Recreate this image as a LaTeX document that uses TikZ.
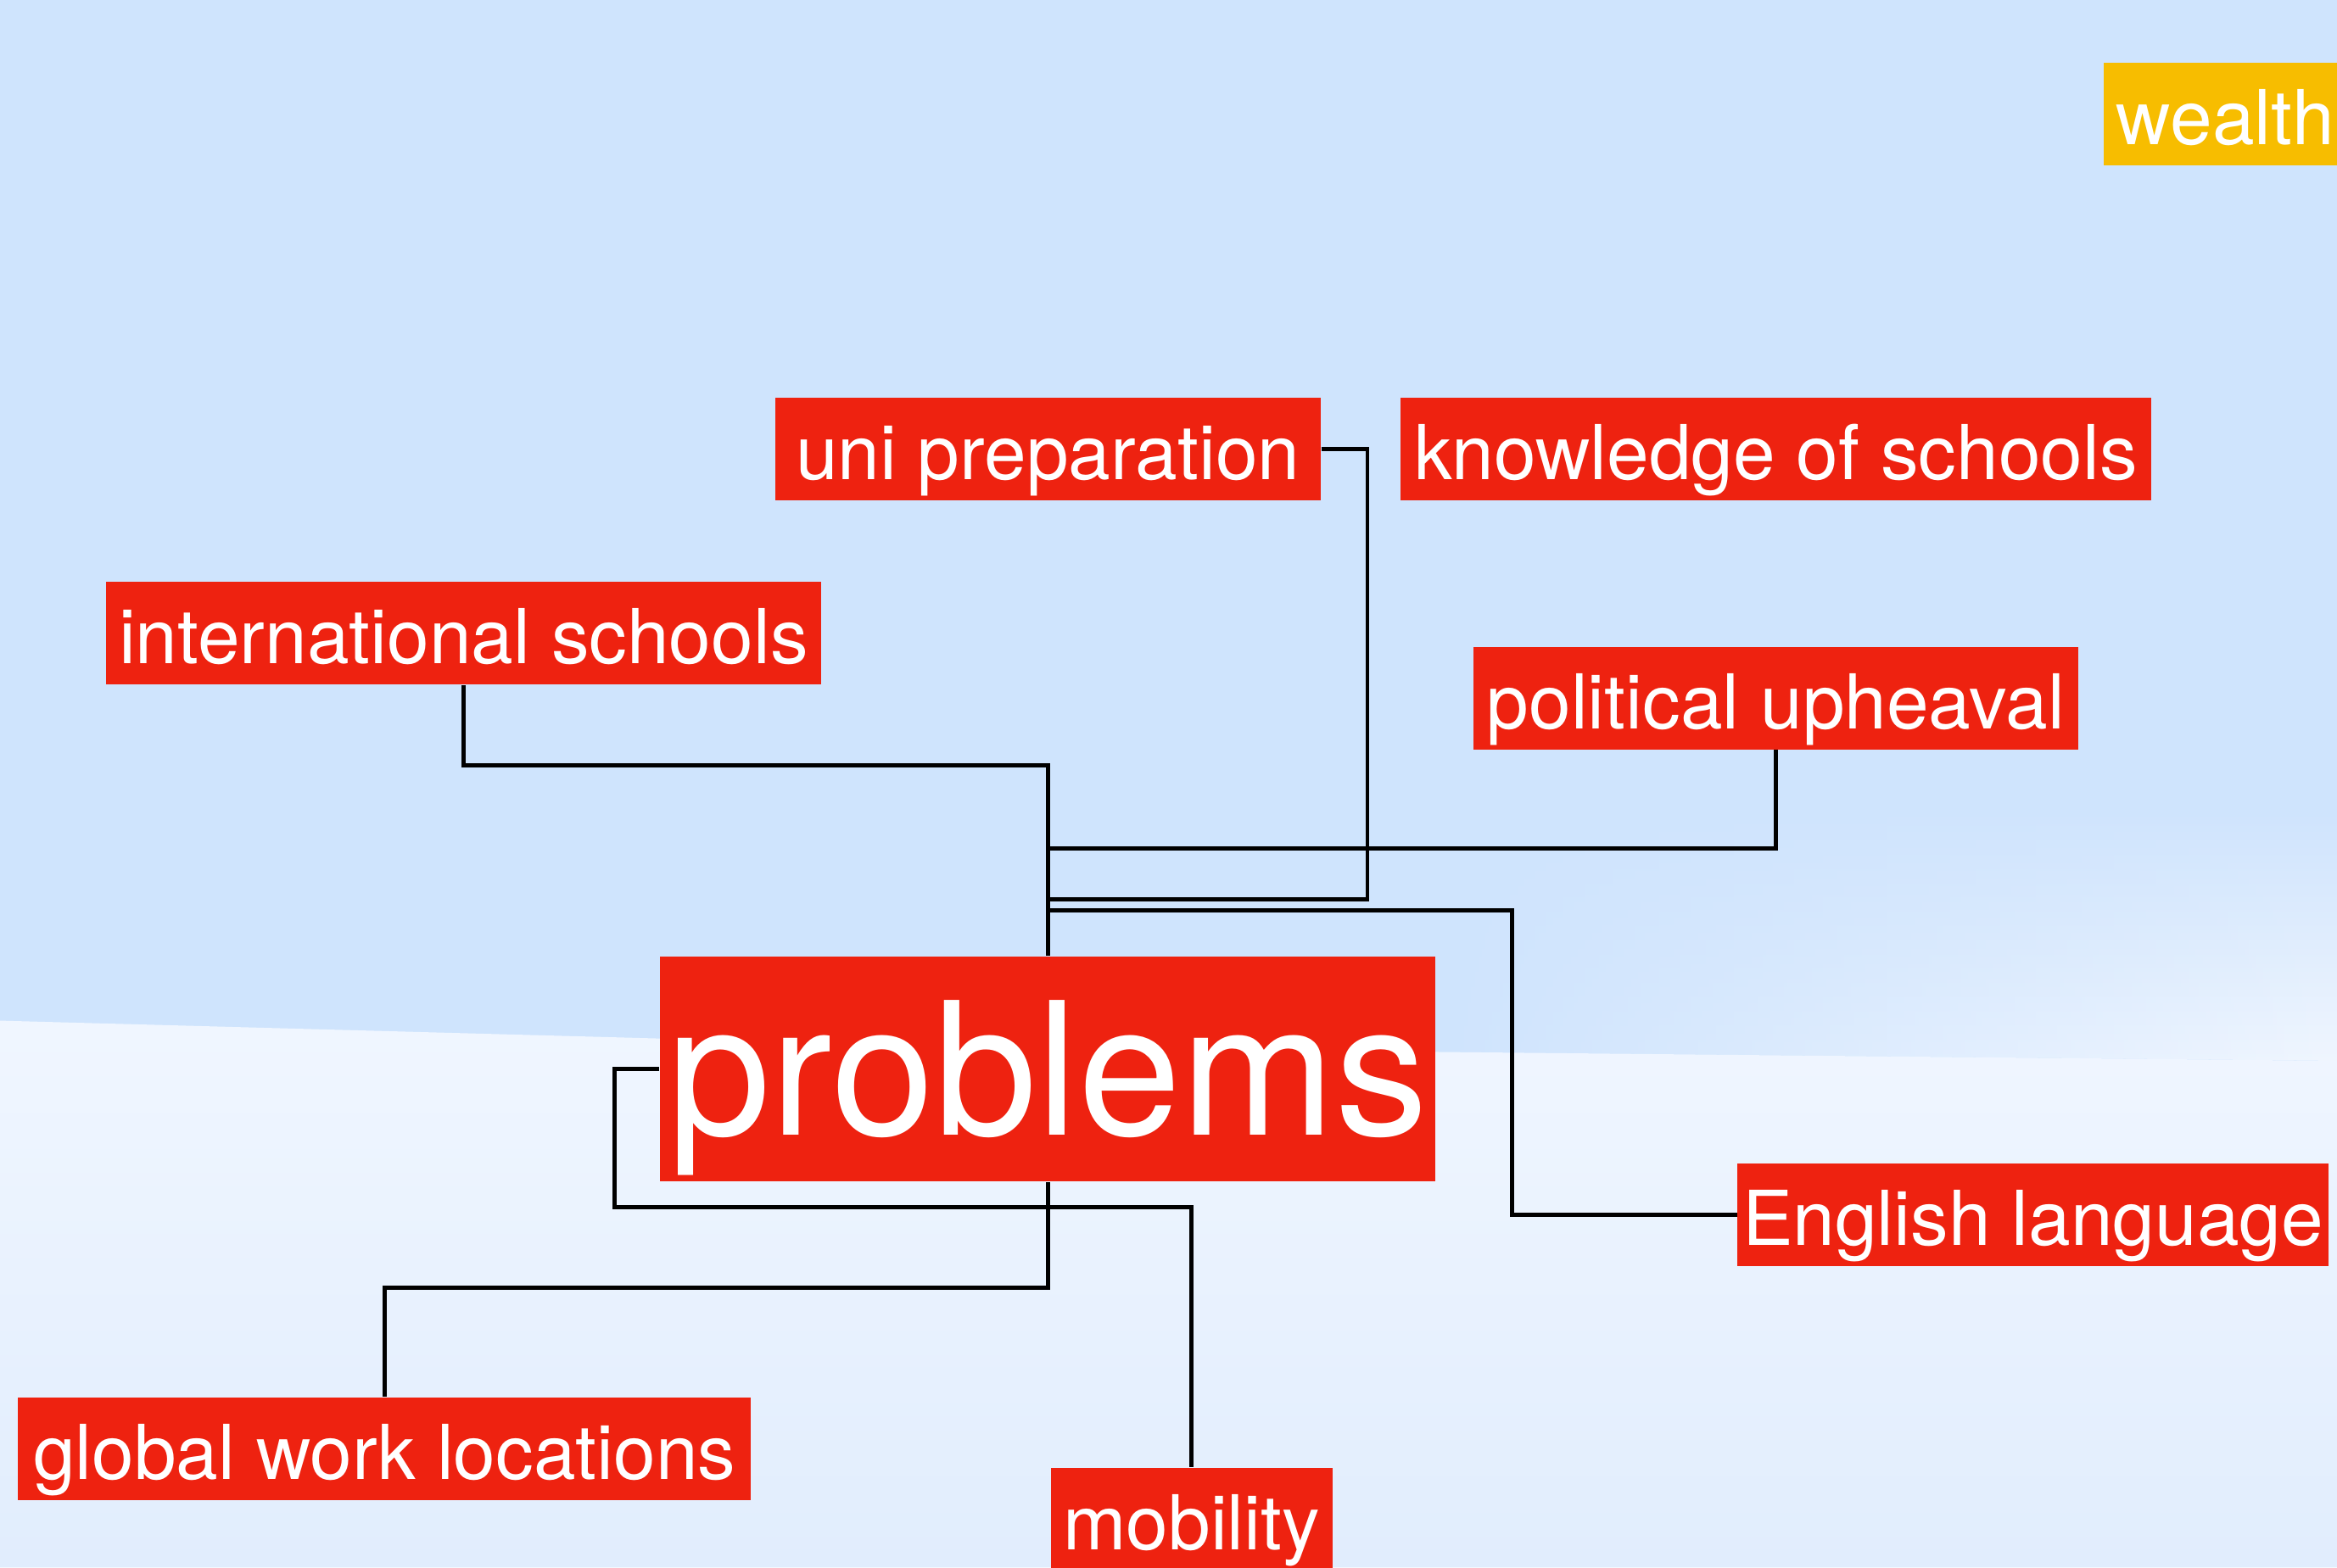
\documentclass[tikz,border=0pt]{standalone}
\usepackage{fontspec}
\setmainfont{TeX Gyre Heros}
\usepackage{tikz}
\usetikzlibrary{positioning,fadings}

\definecolor{boxred}{RGB}{238,34,16}
\definecolor{boxgold}{RGB}{247,189,0}
\definecolor{skytop}{RGB}{207,228,253}
\definecolor{hazetop}{RGB}{240,246,255}
\definecolor{hazebot}{RGB}{225,237,253}

\tikzfading[name=fade right, left color=transparent!100, right color=transparent!0]

\tikzset{
  lbl/.style={fill=boxred, text=white, inner xsep=0pt, inner ysep=0pt,
    text height=0.966cm, text depth=0.246cm,
    font=\fontsize{25.4}{30}\selectfont},
  hub/.style={lbl, text height=2.108cm, text depth=0.545cm,
    font=\fontsize{62}{70}\selectfont},
  link/.style={draw=black, line width=1.4pt}
}

\begin{document}
\begin{tikzpicture}[x=0.01757cm, y=-0.01757cm]
\useasboundingbox (0,0) rectangle (1568,1052);

% sky behind
\fill[skytop] (0,0) rectangle (1568,730);
\shade[top color=hazetop, bottom color=hazebot]
  (0,685) -- (443,697) -- (963,706) -- (1568,712) -- (1568,1052) -- (0,1052) -- cycle;
\shade[top color=skytop, bottom color=hazetop, path fading=fade right]
  (963,540) -- (1568,540) -- (1568,712) -- (963,706) -- cycle;

\node (wealth) [lbl, fill=boxgold, anchor=west, inner xsep=0.15cm] at (1411,76.5) {wealth};
\node (uni) [lbl, minimum width=6.43cm] at (703,301.5) {uni preparation};
\node (know) [lbl, minimum width=8.84cm] at (1191.5,301.5) {knowledge of schools};
\node (intl) [lbl, minimum width=8.43cm] at (311,425) {international schools};
\node (pol) [lbl, minimum width=7.12cm] at (1191.5,468.5) {political upheaval};
\node (prob) [hub, minimum width=9.14cm] at (703,717.5) {problems};
\node (eng) [lbl, minimum width=6.96cm] at (1364,815.5) {English language};
\node (glob) [lbl, minimum width=8.64cm] at (258,972.5) {global work locations};
\node (mob) [lbl, minimum width=3.32cm] at (799.5,1019.5) {mobility};

% branches into problems
\draw[link] (intl.south) -- ++(0,54) -| (prob.north);
\draw[link] (pol.south) -- ++(0,66) -| (prob.north);
\draw[link] (uni.east) -- ++(31,0) -- ++(0,302) -| (prob.north);
\draw[link] (eng.west) -- ++(-151,0) -- ++(0,-204.5) -| (prob.north);
\draw[link] (prob.south) -- ++(0,71) -| (glob.north);
\draw[link] (prob.west) -- ++(-30,0) -- ++(0,92.5) -| (mob.north);
\end{tikzpicture}
\end{document}
